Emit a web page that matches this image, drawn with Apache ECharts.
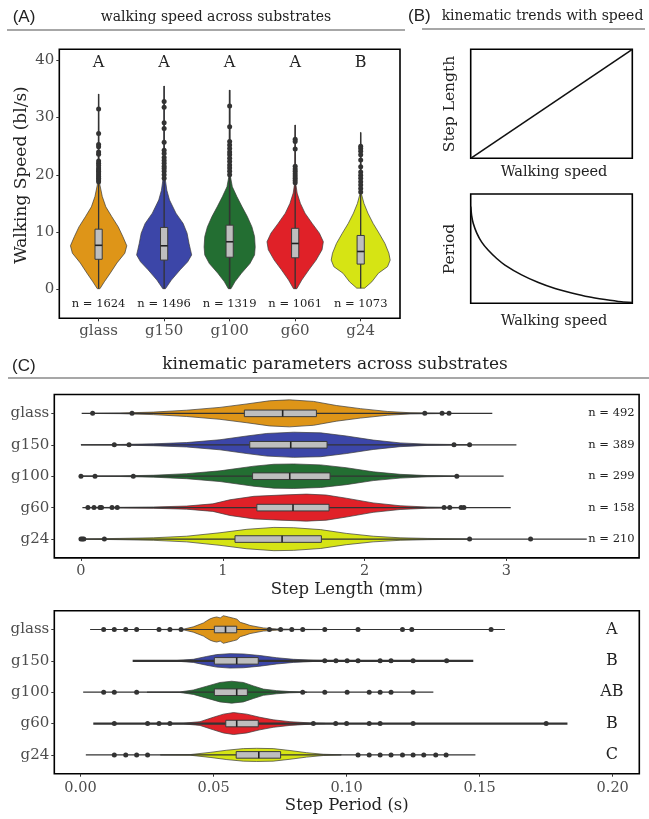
<!DOCTYPE html>
<html><head><meta charset="utf-8">
<script src="https://cdn.jsdelivr.net/npm/echarts@6/dist/echarts.min.js"></script>
<style>html,body{margin:0;padding:0;background:#fff}#c{width:649px;height:819px}</style>
</head><body><div id="c"></div>
<script>
// ---------- shared ----------
const categories = ['glass', 'g150', 'g100', 'g60', 'g24'];
const fillColors = ['#DE9518', '#3C46A8', '#236E32', '#E02128', '#D6E414'];

// ---------- Panel A: walking speed ----------
const speedTicks = [0, 10, 20, 30, 40];
const speedLetters = ['A', 'A', 'A', 'A', 'B'];
const speedN = ['n = 1624', 'n = 1496', 'n = 1319', 'n = 1061', 'n = 1073'];
const speedQ1 = [5.24, 5.1, 5.6, 5.5, 4.4];
const speedMedian = [7.68, 7.6, 8.3, 8.0, 6.6];
const speedQ3 = [10.5, 10.8, 11.2, 10.65, 9.4];
const speedMin = [0.1, 0.1, 0.1, 0.1, 0.2];
const speedMax = [34.1, 35.5, 34.8, 28.7, 27.4];
const speedProfileGlass = [[0.1,0.02],[1.3,0.087],[2.85,0.18],[4.6,0.28],[6.3,0.40],[7.6,0.43],[9.2,0.37],[10.9,0.30],[12.7,0.20],[14.4,0.11],[16.2,0.056],[18.2,0.02],[20,0.01],[24,0.006],[34.1,0.003]];
const speedProfileG150 = [[0.1,0.02],[1.6,0.11],[3.4,0.245],[4.8,0.36],[6.0,0.42],[7.0,0.40],[8.0,0.38],[9.8,0.35],[11.5,0.29],[13.3,0.18],[15.6,0.082],[17.3,0.041],[19.4,0.015],[24,0.006],[35.5,0.003]];
const speedProfileG100 = [[0.1,0.02],[1.3,0.08],[2.8,0.18],[4.5,0.31],[6.0,0.38],[7.4,0.39],[9.2,0.38],[10.9,0.34],[12.7,0.27],[14.4,0.19],[16.2,0.11],[17.9,0.041],[19.7,0.012],[24,0.006],[34.8,0.003]];
const speedProfileG60 = [[0.1,0.025],[1.6,0.10],[3.4,0.21],[5.1,0.32],[6.9,0.41],[8.3,0.43],[9.8,0.37],[11.5,0.26],[13.3,0.15],[15.0,0.08],[16.8,0.03],[18.2,0.012],[22,0.006],[28.7,0.003]];
const speedProfileG24 = [[0.2,0.06],[1.3,0.17],[2.8,0.27],[3.95,0.41],[5.1,0.45],[6.3,0.43],[8.0,0.37],[9.8,0.28],[11.5,0.19],[13.3,0.11],[15.0,0.05],[16.5,0.015],[20,0.006],[27.4,0.003]];
const speedOutGlass = [31.5,27.2,25.3,24.9,24.0,23.6,22.4,22.0,21.6,21.2,20.9,20.6,20.3,20.0,19.7,19.4,19.1,18.8];
const speedOutG150 = [32.8,31.8,29.1,28.1,25.7,24.3,23.7,23.0,22.5,22.0,21.5,21.1,20.6,20.0,19.4];
const speedOutG100 = [32.0,28.4,25.8,25.2,24.6,24.0,23.5,22.9,22.3,21.7,21.2,20.6,20.0];
const speedOutG60 = [26.2,25.8,24.5,21.5,21.0,20.6,20.2,19.8,19.4,19.0,18.6];
const speedOutG24 = [25.0,24.6,24.1,23.5,22.6,21.4,20.5,19.9,19.4,18.8,18.2,17.6,17.0];

// ---------- Panel B: schematic trends ----------
const lengthTrendX = [0, 1];
const lengthTrendY = [0, 1];
const periodTrendX = [0, 0.006, 0.016, 0.037, 0.068, 0.109, 0.161, 0.212, 0.315, 0.419, 0.522, 0.625, 0.728, 0.831, 0.934, 1];
const periodTrendY = [0.884, 0.80, 0.73, 0.645, 0.56, 0.485, 0.41, 0.35, 0.26, 0.19, 0.135, 0.095, 0.06, 0.035, 0.014, 0.006];

// ---------- Panel C1: step length ----------
const lengthTicks = [0, 1, 2, 3];
const lengthN = ['n = 492', 'n = 389', 'n = 299', 'n = 158', 'n = 210'];
const lengthQ1 = [1.152, 1.19, 1.21, 1.24, 1.086];
const lengthMedian = [1.422, 1.479, 1.472, 1.495, 1.418];
const lengthQ3 = [1.66, 1.735, 1.756, 1.749, 1.695];
const lengthMin = [0.005, 0.0, 0.0, 0.01, 0.0];
const lengthMax = [2.90, 3.07, 2.98, 3.03, 3.566];
const lengthProfileGlass = [[0.08,0.003],[0.275,0.01],[0.51,0.04],[0.745,0.10],[0.98,0.19],[1.17,0.30],[1.33,0.40],[1.47,0.43],[1.64,0.38],[1.80,0.25],[1.97,0.15],[2.16,0.06],[2.32,0.02],[2.6,0.004]];
const lengthProfileG150 = [[0.0,0.003],[0.275,0.01],[0.51,0.03],[0.745,0.07],[0.98,0.16],[1.17,0.28],[1.31,0.36],[1.50,0.40],[1.69,0.38],[1.87,0.28],[2.06,0.15],[2.25,0.06],[2.44,0.02],[2.74,0.003]];
const lengthProfileG100 = [[0.0,0.003],[0.275,0.01],[0.51,0.03],[0.745,0.08],[0.98,0.17],[1.22,0.32],[1.36,0.38],[1.50,0.39],[1.69,0.36],[1.87,0.27],[2.06,0.14],[2.25,0.06],[2.44,0.02],[2.65,0.003]];
const lengthProfileG60 = [[0.05,0.003],[0.275,0.01],[0.51,0.02],[0.745,0.05],[0.93,0.12],[1.05,0.25],[1.22,0.36],[1.41,0.40],[1.59,0.43],[1.73,0.40],[1.87,0.30],[2.06,0.15],[2.25,0.06],[2.44,0.02],[2.7,0.003]];
const lengthProfileG24 = [[0.0,0.003],[0.275,0.02],[0.51,0.04],[0.745,0.09],[0.98,0.2],[1.17,0.31],[1.36,0.37],[1.50,0.36],[1.69,0.30],[1.87,0.18],[2.06,0.09],[2.25,0.04],[2.44,0.02],[2.74,0.003]];
const lengthOutGlass = [0.082,0.36,2.424,2.546,2.595];
const lengthOutG150 = [0.235,0.339,2.63,2.74];
const lengthOutG100 = [0.0,0.099,0.369,2.65];
const lengthOutG60 = [0.049,0.092,0.134,0.145,0.219,0.256,2.56,2.60,2.68,2.70];
const lengthOutG24 = [0.0,0.01,0.02,0.165,2.74,3.17];

// ---------- Panel C2: step period ----------
const periodTicks = [0, 0.05, 0.1, 0.15, 0.2];
const periodLetters = ['A', 'B', 'AB', 'B', 'C'];
const periodQ1 = [0.0503, 0.0503, 0.0503, 0.0546, 0.0585];
const periodMedian = [0.0545, 0.0587, 0.0587, 0.0587, 0.0670];
const periodQ3 = [0.0587, 0.0668, 0.0627, 0.0668, 0.0752];
const periodMin = [0.0036, 0.0196, 0.001, 0.0048, 0.002];
const periodMax = [0.1595, 0.1476, 0.1326, 0.183, 0.1484];
const periodProfileGlass = [[0.03,0.003],[0.0386,0.01],[0.0424,0.085],[0.0462,0.21],[0.0475,0.28],[0.0487,0.34],[0.05,0.38],[0.0512,0.40],[0.0525,0.37],[0.0537,0.44],[0.0556,0.40],[0.0575,0.36],[0.0588,0.33],[0.06,0.23],[0.062,0.18],[0.0637,0.13],[0.0687,0.05],[0.0737,0.02],[0.08,0.006],[0.09,0.003]];
const periodProfileG150 = [[0.025,0.003],[0.0361,0.01],[0.0424,0.05],[0.0474,0.14],[0.0512,0.2],[0.0562,0.23],[0.0612,0.22],[0.0674,0.17],[0.0737,0.1],[0.08,0.05],[0.0875,0.02],[0.095,0.005]];
const periodProfileG100 = [[0.025,0.003],[0.0374,0.01],[0.0424,0.07],[0.0474,0.19],[0.0524,0.31],[0.0568,0.35],[0.0612,0.31],[0.065,0.2],[0.0687,0.1],[0.0737,0.05],[0.0787,0.02],[0.085,0.004]];
const periodProfileG60 = [[0.025,0.003],[0.0386,0.01],[0.0449,0.06],[0.0499,0.2],[0.0537,0.3],[0.0575,0.35],[0.0625,0.3],[0.0674,0.2],[0.0724,0.12],[0.0787,0.06],[0.0862,0.02],[0.092,0.004]];
const periodProfileG24 = [[0.03,0.003],[0.0412,0.01],[0.0487,0.08],[0.055,0.15],[0.0612,0.2],[0.0662,0.21],[0.0724,0.2],[0.0787,0.14],[0.085,0.07],[0.0912,0.02],[0.098,0.004]];
const periodOutGlass = [0.0087,0.0127,0.017,0.0211,0.0295,0.0336,0.0378,0.071,0.0752,0.0794,0.0835,0.0918,0.1043,0.121,0.1245,0.1543];
const periodOutG150 = [0.0918,0.096,0.1002,0.1043,0.1126,0.1167,0.125,0.1376];
const periodOutG100 = [0.0087,0.0127,0.0211,0.0835,0.0918,0.1002,0.1085,0.1126,0.1167,0.125];
const periodOutG60 = [0.0127,0.0252,0.0295,0.0336,0.0875,0.0959,0.1,0.1085,0.1126,0.125,0.175];
const periodOutG24 = [0.0127,0.017,0.0211,0.0252,0.1043,0.1085,0.1126,0.1167,0.121,0.125,0.129,0.1335,0.1374];

// ---------- build ----------
const SERIF = 'DejaVu Serif';
const SANS = 'Liberation Sans';
const TICK_COLOR = '#4d4d4d';
const INK = '#222';

const speedProfiles = [speedProfileGlass, speedProfileG150, speedProfileG100, speedProfileG60, speedProfileG24];
const speedOut = [speedOutGlass, speedOutG150, speedOutG100, speedOutG60, speedOutG24];
const lengthProfiles = [lengthProfileGlass, lengthProfileG150, lengthProfileG100, lengthProfileG60, lengthProfileG24];
const lengthOut = [lengthOutGlass, lengthOutG150, lengthOutG100, lengthOutG60, lengthOutG24];
const periodProfiles = [periodProfileGlass, periodProfileG150, periodProfileG100, periodProfileG60, periodProfileG24];
const periodOut = [periodOutGlass, periodOutG150, periodOutG100, periodOutG60, periodOutG24];

function anchorData(vertical, vals) {
  return categories.map((_, i) => vertical ? [i + 1, vals[i]] : [vals[i], i + 1]);
}

function violinSeries(gi, vertical, profiles, med) {
  return {
    type: 'custom', xAxisIndex: gi, yAxisIndex: gi, data: anchorData(vertical, med), silent: true,
    renderItem: function (params, api) {
      const i = params.dataIndex, c = i + 1, prof = profiles[i];
      const left = [], right = [];
      prof.forEach(function (p) {
        left.push(vertical ? api.coord([c - p[1], p[0]]) : api.coord([p[0], c - p[1]]));
        right.push(vertical ? api.coord([c + p[1], p[0]]) : api.coord([p[0], c + p[1]]));
      });
      const pts = left.concat(right.reverse());
      return { type: 'polygon', shape: { points: pts }, style: { fill: fillColors[i], stroke: '#3a3a3a', lineWidth: 0.7 } };
    }
  };
}

function boxSeries(gi, vertical, q1, med, q3, mn, mx, half, lineWidths) {
  return {
    type: 'custom', xAxisIndex: gi, yAxisIndex: gi, data: anchorData(vertical, med), silent: true,
    renderItem: function (params, api) {
      const i = params.dataIndex, c = i + 1;
      const L = (cat, v) => vertical ? api.coord([cat, v]) : api.coord([v, cat]);
      const p0 = L(c, mn[i]), p1 = L(c, mx[i]);
      const a = L(c - half, q1[i]), b = L(c + half, q3[i]);
      const m0 = L(c - half, med[i]), m1 = L(c + half, med[i]);
      const x = Math.min(a[0], b[0]), y = Math.min(a[1], b[1]);
      return {
        type: 'group', children: [
          { type: 'line', shape: { x1: p0[0], y1: p0[1], x2: p1[0], y2: p1[1] }, style: { stroke: '#333', lineWidth: lineWidths[i] } },
          { type: 'rect', shape: { x: x, y: y, width: Math.abs(b[0] - a[0]), height: Math.abs(b[1] - a[1]) }, style: { fill: '#BEBEBE', stroke: '#3a3a3a', lineWidth: 1 } },
          { type: 'line', shape: { x1: m0[0], y1: m0[1], x2: m1[0], y2: m1[1] }, style: { stroke: '#222', lineWidth: 1.6 } }
        ]
      };
    }
  };
}

function pointsSeries(gi, vertical, outs) {
  const data = [];
  outs.forEach(function (arr, i) { arr.forEach(function (v) { data.push(vertical ? [i + 1, v] : [v, i + 1]); }); });
  return { type: 'scatter', xAxisIndex: gi, yAxisIndex: gi, data: data, symbolSize: 5, silent: true,
    itemStyle: { color: '#333', opacity: 1 } };
}

function textSeries(gi, vertical, texts, pos, fontSize, med) {
  return {
    type: 'custom', xAxisIndex: gi, yAxisIndex: gi, data: anchorData(vertical, med), silent: true,
    renderItem: function (params, api) {
      const i = params.dataIndex, c = i + 1;
      const p = vertical ? api.coord([c, pos]) : api.coord([pos, c]);
      return { type: 'text', x: p[0], y: p[1], style: { text: texts[i], fill: INK, fontFamily: SERIF, fontSize: fontSize, align: 'center', verticalAlign: 'middle' } };
    }
  };
}

const hidden = { axisLine: { show: false, onZero: false }, axisTick: { show: false }, axisLabel: { show: false }, splitLine: { show: false } };
const noLine = { show: false, onZero: false };
const tickStyle = { show: true, length: 3, lineStyle: { color: '#333', width: 1 } };

const grids = [
  { left: 59.3, top: 49.3, width: 340.7, height: 269 },   // A
  { left: 470.7, top: 49.3, width: 161.6, height: 109 },  // B1
  { left: 470.7, top: 194, width: 161.6, height: 109.3 }, // B2
  { left: 54.3, top: 394.5, width: 584.8, height: 163.4 },// C1
  { left: 54.3, top: 610.7, width: 585, height: 163 }     // C2
].map(g => Object.assign({ show: true, borderColor: '#000', borderWidth: 1.6, backgroundColor: 'transparent', containLabel: false }, g));

const catLabel = { customValues: [1, 2, 3, 4, 5], formatter: v => categories[Math.round(v) - 1], color: TICK_COLOR, fontFamily: SERIF, fontSize: 15 };

const xAxes = [
  { gridIndex: 0, type: 'value', min: 0.4, max: 5.6, axisLine: noLine, splitLine: { show: false },
    axisTick: Object.assign({ customValues: [1, 2, 3, 4, 5] }, tickStyle), axisLabel: Object.assign({ margin: 5 }, catLabel) },
  Object.assign({ gridIndex: 1, type: 'value', min: 0, max: 1 }, hidden),
  Object.assign({ gridIndex: 2, type: 'value', min: 0, max: 1 }, hidden),
  { gridIndex: 3, type: 'value', min: -0.188, max: 3.935, axisLine: noLine, splitLine: { show: false },
    axisTick: Object.assign({ customValues: lengthTicks }, tickStyle),
    axisLabel: { customValues: lengthTicks, formatter: v => String(v), color: TICK_COLOR, fontFamily: SERIF, fontSize: 14.5, margin: 6 } },
  { gridIndex: 4, type: 'value', min: -0.00985, max: 0.21, axisLine: noLine, splitLine: { show: false },
    axisTick: Object.assign({ customValues: periodTicks }, tickStyle),
    axisLabel: { customValues: periodTicks, formatter: v => v.toFixed(2), color: TICK_COLOR, fontFamily: SERIF, fontSize: 14.5, margin: 7 } }
];
const yAxes = [
  { gridIndex: 0, type: 'value', min: -5.07, max: 41.92, axisLine: noLine, splitLine: { show: false },
    axisTick: Object.assign({ customValues: speedTicks }, tickStyle),
    axisLabel: { customValues: speedTicks, formatter: v => String(v), color: TICK_COLOR, fontFamily: SERIF, fontSize: 15, margin: 5 } },
  Object.assign({ gridIndex: 1, type: 'value', min: 0, max: 1 }, hidden),
  Object.assign({ gridIndex: 2, type: 'value', min: 0, max: 1 }, hidden),
  { gridIndex: 3, type: 'value', inverse: true, min: 0.4, max: 5.6, axisLine: noLine, splitLine: { show: false },
    axisTick: Object.assign({ customValues: [1, 2, 3, 4, 5] }, tickStyle), axisLabel: Object.assign({ margin: 5 }, catLabel) },
  { gridIndex: 4, type: 'value', inverse: true, min: 0.4, max: 5.6, axisLine: noLine, splitLine: { show: false },
    axisTick: Object.assign({ customValues: [1, 2, 3, 4, 5] }, tickStyle), axisLabel: Object.assign({ margin: 5 }, catLabel) }
];

const series = [
  // Panel A
  violinSeries(0, true, speedProfiles, speedMedian),
  boxSeries(0, true, speedQ1, speedMedian, speedQ3, speedMin, speedMax, 0.055, [1.3, 1.3, 1.6, 1.3, 1.3]),
  pointsSeries(0, true, speedOut),
  textSeries(0, true, speedLetters, 39.5, 16, speedMedian),
  textSeries(0, true, speedN, -2.6, 11.5, speedMedian),
  // Panel B
  { type: 'line', xAxisIndex: 1, yAxisIndex: 1, data: lengthTrendX.map((x, i) => [x, lengthTrendY[i]]), showSymbol: false, silent: true,
    lineStyle: { color: '#111', width: 1.6 } },
  { type: 'line', xAxisIndex: 2, yAxisIndex: 2, data: periodTrendX.map((x, i) => [x, periodTrendY[i]]), showSymbol: false, silent: true,
    smooth: 0.2, lineStyle: { color: '#111', width: 1.6 } },
  // Panel C1
  violinSeries(3, false, lengthProfiles, lengthMedian),
  boxSeries(3, false, lengthQ1, lengthMedian, lengthQ3, lengthMin, lengthMax, 0.105, [1.2, 1.2, 1.2, 1.2, 1.2]),
  pointsSeries(3, false, lengthOut),
  textSeries(3, false, lengthN, 3.74, 11.5, lengthMedian),
  // Panel C2
  violinSeries(4, false, periodProfiles, periodMedian),
  boxSeries(4, false, periodQ1, periodMedian, periodQ3, periodMin, periodMax, 0.105, [1.2, 2.2, 1.2, 2.2, 1.2]),
  pointsSeries(4, false, periodOut),
  textSeries(4, false, periodLetters, 0.1997, 16, periodMedian)
];

function txt(x, y, text, size, family, align, rot, color) {
  return { type: 'text', x: x, y: y, rotation: rot || 0, silent: true,
    style: { text: text, fontSize: size, fontFamily: family, fill: color || INK, align: align || 'center', verticalAlign: 'middle' } };
}
function hline(x1, x2, y) {
  return { type: 'line', silent: true, shape: { x1: x1, y1: y, x2: x2, y2: y }, style: { stroke: '#8a8a8a', lineWidth: 1.3 } };
}

const graphics = [
  txt(12.7, 17, '(A)', 17, SANS, 'left'),
  txt(216, 17, 'walking speed across substrates', 14, SERIF),
  hline(7, 405, 30),
  txt(21.7, 175, 'Walking Speed (bl/s)', 17, SERIF, 'center', Math.PI / 2),
  txt(408, 16, '(B)', 17, SANS, 'left'),
  txt(542.5, 16, 'kinematic trends with speed', 14, SERIF),
  hline(422, 645, 29),
  txt(450, 104, 'Step Length', 15.5, SERIF, 'center', Math.PI / 2),
  txt(554, 172.7, 'Walking speed', 14.5, SERIF),
  txt(450, 249, 'Period', 15.5, SERIF, 'center', Math.PI / 2),
  txt(554, 321.7, 'Walking speed', 14.5, SERIF),
  txt(12, 366, '(C)', 17, SANS, 'left'),
  txt(335, 365, 'kinematic parameters across substrates', 17, SERIF),
  hline(8, 649, 378),
  txt(346.8, 590, 'Step Length (mm)', 16.5, SERIF),
  txt(346.8, 806, 'Step Period (s)', 16.5, SERIF)
];

const chart = echarts.init(document.getElementById('c'), null, { renderer: 'canvas' });
chart.setOption({
  animation: false,
  backgroundColor: '#fff',
  grid: grids,
  xAxis: xAxes,
  yAxis: yAxes,
  series: series,
  graphic: { elements: graphics }
});
</script>
</body></html>
